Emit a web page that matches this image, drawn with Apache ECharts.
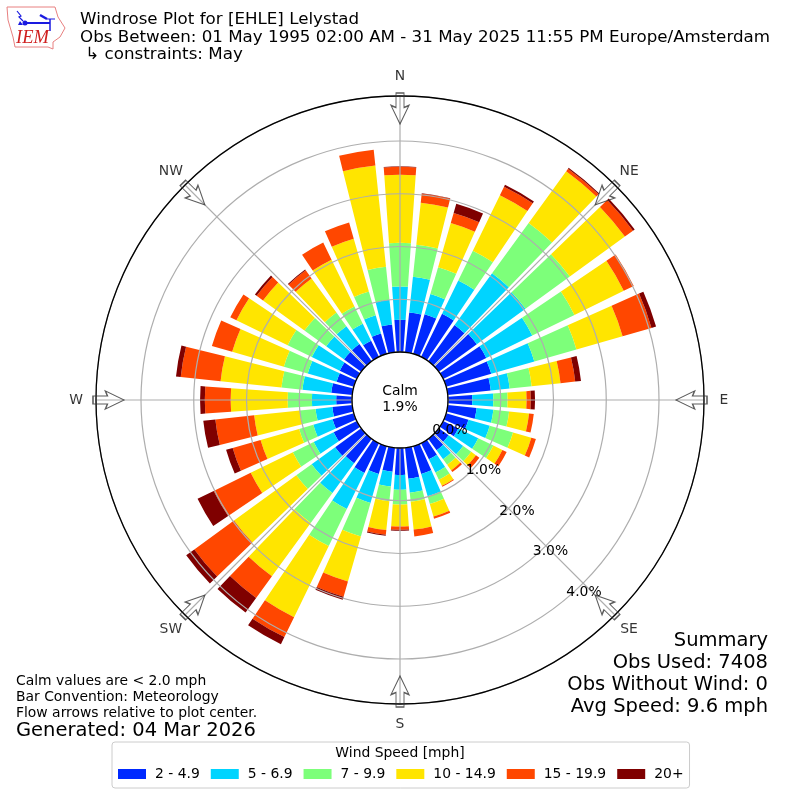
<!DOCTYPE html>
<html><head><meta charset="utf-8">
<script src="https://cdn.jsdelivr.net/npm/echarts@6/dist/echarts.min.js"></script>
<style>html,body{margin:0;background:#fff}#c{width:800px;height:800px}</style></head>
<body><div id="c"></div>
<script>
const directions = ['0','10','20','30','40','50','60','70','80','90','100','110','120','130','140','150','160','170','180','190','200','210','220','230','240','250','260','270','280','290','300','310','320','330','340','350'];
const speedBins = ['2 - 4.9','5 - 6.9','7 - 9.9','10 - 14.9','15 - 19.9','20+'];
const binColors = ['#0029ff','#00d4ff','#7dff7a','#ffe500','#ff4700','#7f0000'];
const s2to5 = [.61,.76,.78,.91,.85,.89,.91,.89,.82,.46,.55,.44,.32,.23,.27,.34,.55,.59,.51,.46,.55,.63,.57,.61,.49,.42,.38,.30,.40,.34,.36,.40,.40,.34,.40,.53];
const s5to7 = [.63,.68,.40,.70,1.21,1.14,.97,.85,.36,.40,.32,.42,.42,.34,.21,.28,.44,.27,.28,.28,.57,.76,.70,.55,.42,.38,.32,.46,.55,.57,.59,.42,.42,.36,.36,.47];
const s7to10 = [.83,.61,.53,.63,1.18,1.04,.89,.83,.42,.27,.30,.46,.32,.19,.13,.15,.15,.17,.28,.28,.66,.78,.70,.36,.44,.28,.30,.46,.40,.47,.51,.51,.32,.36,.47,.63];
const s10to15 = [1.29,.80,.87,1.17,1.21,1.29,1.04,.91,.55,.36,.38,.36,.19,.11,.13,.13,.25,.53,.42,.55,.89,1.50,1.25,1.46,.89,.76,.87,1.08,1.16,1.02,1.08,.97,.80,.99,1.04,1.93];
const s15to20 = [.15,.17,.20,.18,.06,.19,.21,.57,.28,.08,.09,.09,.09,.08,.04,.02,.04,.13,.06,.09,.30,.42,.51,.93,.78,.55,.74,.49,.76,.40,.13,.15,.19,.36,.32,.30];
const s20plus = [.01,.01,.18,.04,.02,.04,0,.09,.11,.08,0,0,0,0,0,0,0,0,.02,.02,.06,.15,.34,.19,.34,.13,.23,.09,.09,0,0,.04,.02,0,0,0];
const speedSeries = [s2to5,s5to7,s7to10,s10to15,s15to20,s20plus];
const compassLabels = ['N','NE','E','SE','S','SW','W','NW'];
const compassAngles = [0,45,90,135,180,225,270,315];
const radialTicks = [0,1,2,3,4];
const titleLines = 'Windrose Plot for [EHLE] Lelystad\nObs Between: 01 May 1995 02:00 AM - 31 May 2025 11:55 PM Europe/Amsterdam\n \u21b3 constraints: May';
const notes = ['Calm values are < 2.0 mph','Bar Convention: Meteorology','Flow arrows relative to plot center.'];
const generated = 'Generated: 04 Mar 2026';
const summary = ['Summary','Obs Used: 7408','Obs Without Wind: 0','Avg Speed: 9.6 mph'];
const calmText = 'Calm\n1.9%';
const legendTitle = 'Wind Speed [mph]';

const F = '"DejaVu Sans"';
const C = [400,400];
const RMAX = 4.853;
const hiddenAngle = {type:'value',min:0,max:360,show:false};
const arrowPath = 'path://M5 0L13 0L13 14L18 12L9 30L0 12L5 14Z';

const chart = echarts.init(document.getElementById('c'),null,{renderer:'canvas'});
const txt = (text,x,y,size,align,extra)=>({type:'text',x,y,z:20,silent:true,style:Object.assign({text,fill:'#000',font:size+'px '+F,textAlign:align||'left',textVerticalAlign:'middle'},extra||{})});
const blue = '#1a1ae0';
const graphics = [
  {type:'text',x:80,y:11,z:20,style:{text:titleLines,fill:'#000',font:'16.7px '+F,lineHeight:17.6}},
  txt(calmText,400,399,13.9,'center',{lineHeight:16}),
  ...notes.map((t,i)=>txt(t,16,681+i*16,13.9)),
  txt(generated,16,731,19.5),
  ...summary.map((t,i)=>txt(t,768,641+i*22,19.5,'right')),
  txt(legendTitle,400,753,13.9,'center'),
  {type:'polygon',z:20,shape:{points:[[7,7],[55,7],[58,17],[65,28],[60,37],[53,42],[53,49],[48,47],[15,47],[13,37],[8,20]]},style:{fill:'#fff',stroke:'#e88080',lineWidth:1}},
  {type:'polyline',z:21,shape:{points:[[25,23],[50,23]]},style:{stroke:blue,lineWidth:2}},
  {type:'polyline',z:21,shape:{points:[[17,11],[21,16],[19,17],[23,21]]},style:{stroke:blue,lineWidth:1.2}},
  {type:'polyline',z:21,shape:{points:[[40,15],[47,19]]},style:{stroke:blue,lineWidth:2.5}},
  {type:'polyline',z:21,shape:{points:[[47,19],[55,19]]},style:{stroke:blue,lineWidth:1}},
  {type:'polyline',z:21,shape:{points:[[50,19],[50,31]]},style:{stroke:blue,lineWidth:1.5}},
  {type:'circle',z:21,shape:{cx:25,cy:23,r:2.5},style:{fill:blue}},
  {type:'polygon',z:21,shape:{points:[[20,21],[23,25],[18,25]]},style:{fill:blue}},
  {type:'text',x:16,y:29,z:21,style:{text:'IEM',fill:'#d02020',font:'italic 18.5px "Liberation Serif"'}}
];

const option = {
  animation:false,
  backgroundColor:'#fff',
  polar:[
    {center:C,radius:[48,304]},
    {center:C,radius:[48,304]},
    {center:[450,430],radius:[0,210.2]},
    {center:C,radius:[0,324]}
  ],
  angleAxis:[
    {polarIndex:0,type:'category',data:directions,startAngle:95,show:false},
    {polarIndex:1,type:'value',min:0,max:360,interval:45,startAngle:90,z:6,
      axisLine:{show:true,lineStyle:{color:'#000',width:1.3}},axisTick:{show:false},axisLabel:{show:false},
      splitLine:{show:true,lineStyle:{color:'#aeaeae',width:1.2,type:'solid'}}},
    Object.assign({polarIndex:2,startAngle:-50.4},hiddenAngle),
    Object.assign({polarIndex:3,startAngle:90},hiddenAngle)
  ],
  radiusAxis:[
    {polarIndex:0,type:'value',min:0,max:RMAX,show:false},
    {polarIndex:1,type:'value',min:0,max:RMAX,interval:1,z:5,
      axisLine:{show:false},axisTick:{show:false},axisLabel:{show:false},
      splitLine:{show:true,lineStyle:{color:'#aeaeae',width:1.2,type:'solid'}}},
    {polarIndex:2,type:'value',min:radialTicks[0],max:radialTicks[radialTicks.length-1],interval:1,z:8,
      axisLine:{show:false},axisTick:{show:false},splitLine:{show:false},
      axisLabel:{show:true,margin:0,color:'#000',fontFamily:F,fontSize:13.9,align:'center',verticalAlign:'middle',rotate:0,
        formatter:v=>v.toFixed(1)+'%'}},
    {polarIndex:3,type:'value',min:0,max:1,show:false}
  ],
  legend:{
    left:112,top:742,padding:[25,6,7,6],
    itemWidth:28,itemHeight:10,itemGap:11,
    borderColor:'#cccccc',borderWidth:1,borderRadius:3,
    textStyle:{fontFamily:F,fontSize:13.9,color:'#000',padding:[0,0,0,4]},
    icon:'rect',data:speedBins
  },
  graphic:graphics,
  series:[
    ...speedBins.map((name,i)=>({
      name,type:'bar',coordinateSystem:'polar',polarIndex:0,stack:'wind',
      barCategoryGap:'20%',z:2,silent:true,
      itemStyle:{color:binColors[i]},data:speedSeries[i]
    })),
    {type:'scatter',coordinateSystem:'polar',polarIndex:3,z:9,silent:true,
     symbol:arrowPath,symbolSize:[18,31],
     itemStyle:{color:'rgba(255,255,255,0)',borderColor:'#333',borderWidth:1.2},
     data:compassAngles.map(a=>({value:[0.8997,a],symbolRotate:-a}))},
    {type:'scatter',coordinateSystem:'polar',polarIndex:3,z:9,silent:true,
     symbolSize:1,itemStyle:{color:'rgba(0,0,0,0)'},
     label:{show:true,position:'inside',formatter:p=>p.name,color:'#000',fontFamily:F,fontSize:13.9},
     data:compassAngles.map((a,i)=>({name:compassLabels[i],value:[1,a]}))}
  ]
};
chart.setOption(option);
</script></body></html>
